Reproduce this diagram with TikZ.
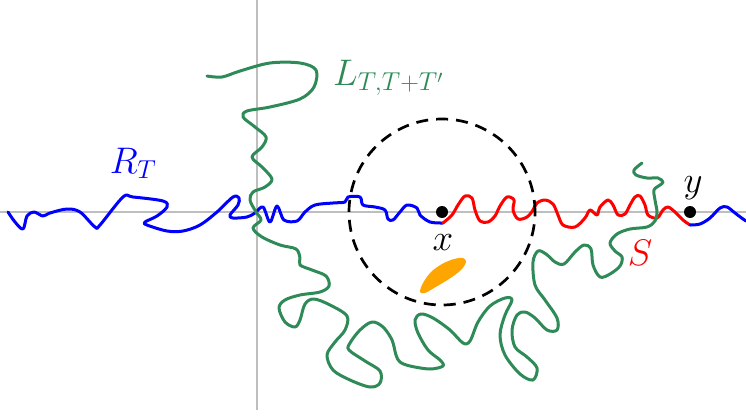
\RequirePackage{fix-cm}
\documentclass[tikz,border=0pt]{standalone}
\definecolor{wgreen}{RGB}{46,139,87}
\definecolor{axgray}{RGB}{190,190,190}
\definecolor{blobor}{RGB}{255,165,0}
\tikzset{
  axisline/.style={axgray, line width=1.3pt},
  walk/.style={line width=3pt, line join=round, line cap=round},
  lbl/.style={inner sep=0pt, font=\fontsize{37}{44}\selectfont},
  ptdot/.style={circle, fill=black, inner sep=0pt, minimum size=12pt},
}
\begin{document}
\begin{tikzpicture}[x=1pt,y=-1pt]
\useasboundingbox (0,0) rectangle (746,415);
% axes
\draw[axisline] (0,212) -- (746,212);
\draw[axisline] (257,0) -- (257,410);
% blue walk R_T up to x
\draw[walk, blue] plot[smooth, tension=0.55] coordinates {
 (8,212) (15,222) (23,229) (27,216) (34,212) (43,216) (50,213) (67,209) (80,212) (95,227) (100,225)
 (123,197) (133,197) (163,201) (167,207) (157,216) (145,222) (147,225) (167,231) (183,231)
 (200,225) (217,212) (233,197) (239,198) (238,205) (230,215) (233,218) (247,217) (255,213)
 (263,207) (270,222) (277,206) (284,220) (297,221) (305,212) (315,205) (333,203) (345,202)
 (348,197) (360,197) (363,205) (375,207) (385,210) (388,219) (393,220) (400,212) (407,205)
 (417,208) (420,215) (430,222) (443,223)};
% red walk S from x to y
\draw[walk, red] plot[smooth, tension=0.55] coordinates {
 (443,223) (452,215) (458,205) (465,196) (472,198) (475,210) (480,221) (488,222) (495,216)
 (500,206) (507,197) (514,200) (513,210) (518,219) (527,217) (533,210) (537,203) (545,200)
 (553,204) (558,215) (563,225) (575,227) (585,218) (590,210) (597,215) (600,207) (608,200)
 (613,205) (618,215) (625,214) (630,205) (635,197) (640,196) (645,205) (648,215) (657,218)
 (663,210) (668,207) (675,212) (683,220) (690,225)};
% blue after y
\draw[walk, blue] plot[smooth, tension=0.55] coordinates {
 (690,225) (700,224) (710,218) (720,208) (727,207) (735,213) (743,219) (746,221)};
% green loop L
\draw[walk, wgreen] plot[smooth, tension=0.55] coordinates {
 (207,76) (222,77) (240,71) (270,63) (300,63) (316,70) (314,87) (300,99) (270,107) (247,111)
 (243,117) (255,127) (266,137) (262,147) (252,157) (262,167) (272,179) (265,187) (253,192)
 (250,200) (256,212) (261,220) (253,228) (262,237) (280,245) (296,249) (300,258) (300,265)
 (312,270) (326,276) (329,286) (320,292) (300,295) (285,300) (279,308) (285,322) (295,327)
 (300,320) (305,304) (314,299) (330,305) (347,316) (345,330) (335,342) (327,355) (333,370)
 (350,380) (370,387) (380,383) (380,371) (365,361) (349,350) (350,343) (360,330) (372,322)
 (383,327) (392,340) (396,355) (400,362) (410,366) (430,369) (443,366) (440,360) (428,350)
 (418,333) (415,320) (421,314) (433,318) (450,330) (463,343) (470,341) (478,322) (490,306)
 (505,298) (512,300) (505,315) (500,335) (505,355) (520,374) (533,380) (537,368) (527,357)
 (515,347) (512,330) (517,315) (525,312) (535,318) (547,330) (557,330) (557,318) (545,300)
 (535,285) (533,262) (538,251) (546,254) (555,262) (564,264) (575,252) (584,245) (591,249)
 (593,265) (600,277) (610,274) (620,266) (622,257) (615,251) (610,243) (617,234) (630,229)
 (647,227) (655,221) (657,212) (655,200) (654,190) (660,185) (663,182) (658,178) (647,178)
 (636,175) (634,170) (642,163)};
% dashed ball
\node[circle, draw=black, line width=2.7pt, dash pattern=on 12pt off 8pt, minimum size=186pt, inner sep=0pt] (ball) at (442,212) {};
% orange blob
\fill[blobor] plot[smooth cycle, tension=0.55] coordinates {
 (420,292) (423,283) (431,272) (442,264) (454,259) (463,258) (466,262) (461,270) (449,279) (434,288) (425,293)};
% points
\node[ptdot] (px) at (442,212) {};
\node[ptdot] (py) at (690,212) {};
% labels
\node[lbl, anchor=base] (lx) at (443,250) {$x$};
\node[lbl, anchor=base] (ly) at (693,192) {$y$};
\node[lbl, anchor=base, text=red] (lS) at (640,265) {$S$};
\node[lbl, anchor=base, text=blue] (lR) at (133,173) {$R_T$};
\node[lbl, anchor=base west, text=wgreen] (lL) at (333,85) {$L_{T,T+T'}$};
\end{tikzpicture}
\end{document}
